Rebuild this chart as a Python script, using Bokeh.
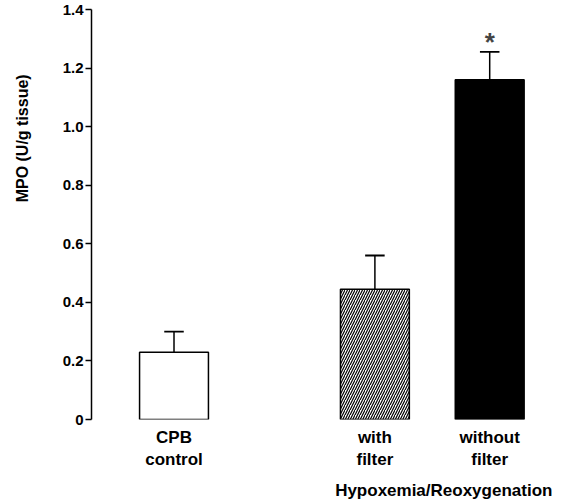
from math import pi
from bokeh.plotting import figure
from bokeh.models import Range1d, FixedTicker, Label, ColumnDataSource, LinearAxis
from bokeh.embed import file_html
from bokeh.resources import INLINE

# ---- data ----
groups = ["CPB control", "with filter", "without filter"]
tick_text = ["CPB\ncontrol", "with\nfilter", "without\nfilter"]
mpo_mean = [0.23, 0.445, 1.16]
mpo_sem = [0.07, 0.115, 0.095]
significant = [False, False, True]
group_title = "Hypoxemia/Reoxygenation"
y_title = "MPO (U/g tissue)"
y_ticks = [0, 0.2, 0.4, 0.6, 0.8, 1.0, 1.2, 1.4]
y_tick_labels = ["0", "0.2", "0.4", "0.6", "0.8", "1.0", "1.2", "1.4"]

# ---- layout ----
xpos = [1.0, 2.75, 3.75]
bar_w = 0.6
cap_hw = 0.085
FONT = "Liberation Sans"


def label_axis(ax, size):
    ax.axis_line_color = None
    ax.major_tick_line_color = None
    ax.minor_tick_line_color = None
    ax.major_tick_in = 0
    ax.major_tick_out = 0
    ax.major_label_text_font = FONT
    ax.major_label_text_font_style = "bold"
    ax.major_label_text_font_size = size
    ax.major_label_text_color = "black"


p = figure(width=566, height=502, output_backend="svg", toolbar_location=None,
           x_range=Range1d(0.2813, 4.419), y_range=Range1d(0, 1.4),
           x_axis_location=None, y_axis_location=None,
           min_border_left=91, min_border_right=0, min_border_top=9,
           min_border_bottom=83)
p.outline_line_color = None
p.grid.visible = False
p.background_fill_color = "white"
p.border_fill_color = "white"

# y axis with ticks
ax = LinearAxis(ticker=FixedTicker(ticks=y_ticks))
ax.major_label_overrides = {t: s for t, s in zip(y_ticks, y_tick_labels)}
ax.minor_tick_line_color = None
ax.major_tick_in = 0
ax.major_tick_out = 6
ax.major_label_standoff = 2
ax.axis_line_width = 1.5
ax.major_tick_line_width = 1.5
ax.major_label_text_font = FONT
ax.major_label_text_font_style = "bold"
ax.major_label_text_font_size = "15px"
ax.major_label_text_color = "black"
p.add_layout(ax, "left")

# y title as a second left axis, placed at the title's height
ytitle_pos = 0.96
ax2 = LinearAxis(ticker=FixedTicker(ticks=[ytitle_pos]))
ax2.major_label_overrides = {ytitle_pos: y_title}
ax2.major_label_orientation = "vertical"
ax2.major_label_standoff = 28
label_axis(ax2, "16px")
p.add_layout(ax2, "left")

# category axis
bx = LinearAxis(ticker=FixedTicker(ticks=xpos))
bx.major_label_overrides = {x: t for x, t in zip(xpos, tick_text)}
bx.major_label_standoff = 8
label_axis(bx, "17px")
p.add_layout(bx, "below")

# group title axis
gpos = 3.35
bx2 = LinearAxis(ticker=FixedTicker(ticks=[gpos]))
bx2.major_label_overrides = {gpos: group_title}
bx2.major_label_standoff = 8
label_axis(bx2, "17px")
p.add_layout(bx2, "below")

# bars
fills = ["white", "white", "black"]
hatches = [" ", "/", " "]
src = ColumnDataSource(dict(x=xpos, top=mpo_mean, fill=fills, hatch=hatches))
p.vbar(x="x", top="top", bottom=0, width=bar_w, source=src, fill_color="fill",
       line_color="black", line_width=1.5, hatch_pattern="hatch",
       hatch_color="black", hatch_scale=5, hatch_weight=1.2)

# error bars (upper only)
err_top = [m + s for m, s in zip(mpo_mean, mpo_sem)]
p.segment(x0=xpos, y0=mpo_mean, x1=xpos, y1=err_top, line_color="black", line_width=1.5)
p.segment(x0=[x - cap_hw for x in xpos], y0=err_top,
          x1=[x + cap_hw for x in xpos], y1=err_top, line_color="black", line_width=1.8)

# significance marker
for x, e, s in zip(xpos, err_top, significant):
    if s:
        p.add_layout(Label(x=x, y=e + 0.035, text="*", text_font=FONT,
                           text_font_style="bold", text_font_size="26px",
                           text_align="center", text_baseline="middle"))

open("out.html", "w").write(file_html(p, INLINE))
